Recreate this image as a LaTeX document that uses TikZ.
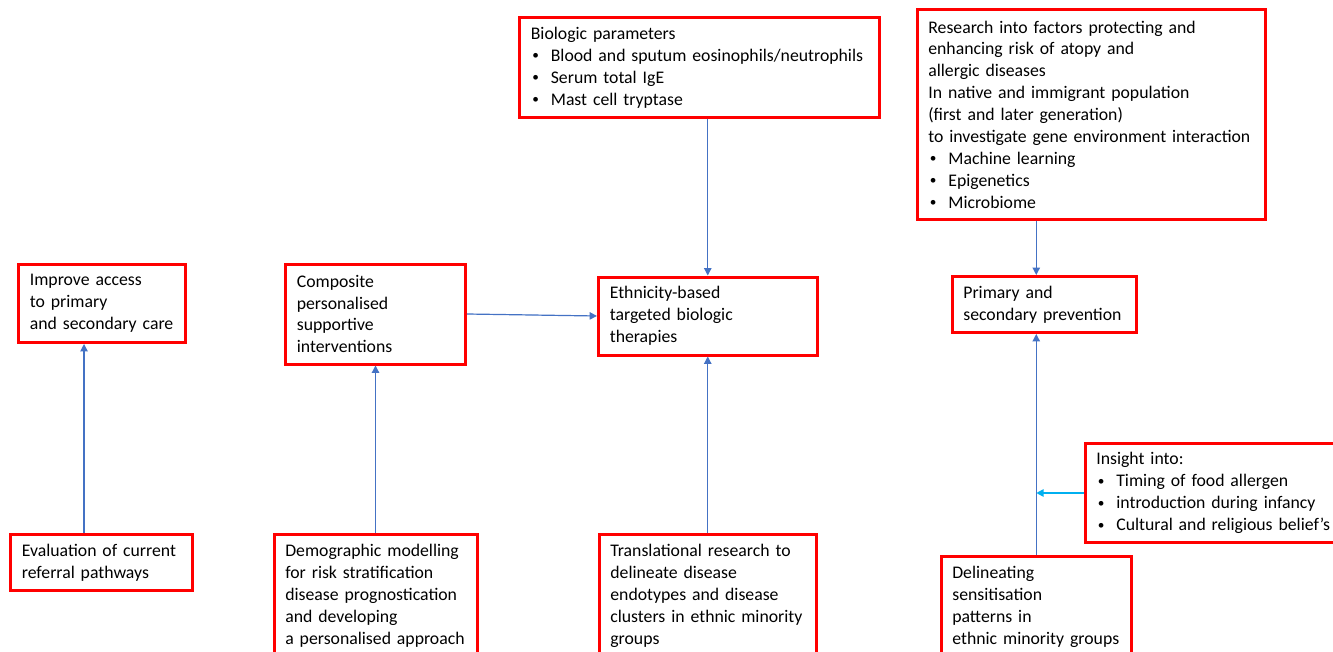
\documentclass[tikz,border=0pt]{standalone}
\usepackage{fontspec}
\setmainfont{Carlito}
\usetikzlibrary{arrows.meta}
\definecolor{boxred}{HTML}{FF0000}
\definecolor{linkblue}{HTML}{4472C4}
\definecolor{linkcyan}{HTML}{00B0F0}
\newcommand{\blt}{\makebox[15pt][l]{\hspace{1.2pt}\raisebox{0.08em}{\scalebox{0.75}{\textbullet}}}}

\begin{document}
\begin{tikzpicture}[
    x=0.75pt, y=-0.75pt,
    box/.style={draw=boxred, line width=2.25pt, align=left, inner xsep=8.5pt, inner ysep=0pt,
        font=\fontsize{13.3}{16.4}\selectfont},
    link/.style={-{Triangle[length=5.5pt,width=5.5pt]}, draw=linkblue, fill=linkblue, line width=0.9pt}
]
\useasboundingbox (0,0) rectangle (1333,652);
\clip (0,0) rectangle (1333,652);

% Top row
\node[box, text width=253pt, minimum height=74.6pt] (bio) at (699.5,67.5)
    {Biologic parameters\\ \blt Blood and sputum eosinophils/neutrophils\\ \blt Serum total IgE\\ \blt Mast cell tryptase};
\node[box, text width=244pt, minimum height=157.1pt] (res) at (1091,114.5)
    {Research into factors protecting and\\ enhancing risk of atopy and\\ allergic diseases\\
     In native and immigrant population\\ (first and later generation)\\
     \mbox{to investigate gene environment interaction}\\
     \blt Machine learning\\ \blt Epigenetics\\ \blt Microbiome};

% Middle row
\node[box, text width=108.25pt, minimum height=58.5pt] (impr) at (102,303.5)
    {Improve access\\ to primary\\ and secondary care};
\node[box, text width=118pt, minimum height=75pt] (comp) at (375.5,314)
    {Composite\\ personalised\\ supportive\\ interventions};
\node[box, text width=146.9pt, minimum height=58.5pt] (eth) at (707.75,316)
    {Ethnicity-based\\ targeted biologic\\ therapies};
\node[box, text width=121.4pt, minimum height=42pt] (prim) at (1044.25,304.5)
    {Primary and\\ secondary prevention};
\node[box, text width=178pt, minimum height=74.25pt] (ins) at (1215,493)
    {Insight into:\\ \blt Timing of food allergen\\ \blt introduction during infancy\\ \blt Cultural and religious belief’s};

% Bottom row
\node[box, text width=119.5pt, minimum height=42pt] (eval) at (101.5,562.5)
    {Evaluation of current\\ referral pathways};
\node[box, text width=135.25pt, minimum height=91.9pt] (demo) at (375.5,596)
    {Demographic modelling\\ for risk stratification\\ disease prognostication\\ and developing\\ a personalised approach};
\node[box, text width=146.1pt, minimum height=91.9pt] (trans) at (707.75,596)
    {Translational research to\\ delineate disease\\ endotypes and disease\\ clusters in ethnic minority\\ groups};
\node[box, text width=125.9pt, minimum height=75.4pt] (delin) at (1036.25,607)
    {Delineating\\ sensitisation\\ patterns in\\ ethnic minority groups};

% Connections
\draw[link] ([xshift=-13.1pt]eval.north) -- ([xshift=-13.1pt]eval.north |- impr.south);
\draw[link] (demo.north) -- (comp.south);
\draw[link] (comp.east) -- (eth.west);
\draw[link] (eth |- bio.south) -- (eth.north);
\draw[link] (trans.north) -- (eth.south);
\draw[link] (delin |- res.south) -- (delin |- prim.north);
\draw[link] (delin.north) -- (delin |- prim.south);
\draw[link, draw=linkcyan, fill=linkcyan, line width=1.3pt] (ins.west) -- (ins.west -| delin.north);

\end{tikzpicture}
\end{document}
